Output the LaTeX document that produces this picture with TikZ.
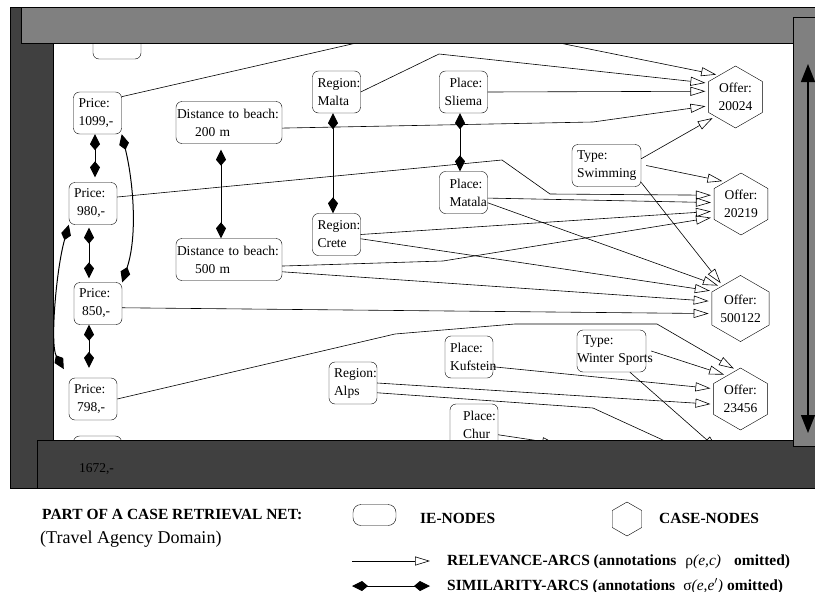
\documentclass[tikz,border=0pt]{standalone}
\usepackage{fontspec}
\setmainfont{Liberation Serif}
\usetikzlibrary{arrows.meta,shapes.geometric}

\definecolor{barmid}{gray}{0.5}
\definecolor{bardark}{gray}{0.25}

\newcommand{\nodefont}{\fontsize{13.5}{18}\selectfont\hyphenpenalty=10000}
\newcommand{\legendfont}{\fontsize{15.5}{18}\selectfont\bfseries}

\tikzstyle{ienode}=[draw, fill=white, rounded corners=6pt, minimum height=42pt, inner sep=5pt, text width=38pt, align=left, font=\nodefont]
\tikzstyle{typenode}=[ienode, text width=59pt]
\tikzstyle{distnode}=[ienode, inner xsep=1pt, text width=104pt]
\tikzstyle{casenode}=[draw, fill=white, regular polygon, regular polygon sides=6, shape border rotate=90, minimum size=62pt, inner sep=0pt, align=center, font=\nodefont]
\tikzstyle{keybox}=[draw, rounded corners=8pt, minimum width=43pt, minimum height=21pt, inner sep=0pt]
\tikzstyle{legendtext}=[anchor=west, inner sep=0pt]
\tikzstyle{relarc}=[-{Triangle[open, length=15pt, width=9pt]}, line width=0.6pt, shorten >=3pt]
\tikzstyle{simarc}=[{Kite[length=16pt, width=10pt, inset=6pt]}-{Kite[length=16pt, width=10pt, inset=6pt]}, line width=1pt]
\tikzstyle{panel}=[draw=black, line width=0.6pt]
\tikzstyle{scroll}=[{Triangle[length=18pt, width=14pt]}-{Triangle[length=18pt, width=14pt]}, line width=1.4pt]

\begin{document}
\begin{tikzpicture}[x=1pt, y=-1pt]
    \useasboundingbox (0,0) rectangle (815,592);

    \node[ienode] (ptop) at (117,38) {};
    \node[ienode] (p1099) at (97.5,113) {Price:\\1099,-};
    \node[ienode] (p980) at (93,203.5) {Price:\\\hspace*{3pt}980,-};
    \node[ienode] (p850) at (98,303.5) {Price:\\\hspace*{3pt}850,-};
    \node[ienode] (p798) at (93,399) {Price:\\\hspace*{3pt}798,-};
    \node[ienode] (pbot) at (97.5,457) {};
    \node[distnode] (d200) at (229,122.5) {Distance to beach:\\\hspace*{18pt}200 m};
    \node[distnode] (d500) at (229,259.5) {Distance to beach:\\\hspace*{18pt}500 m};
    \node[ienode] (rmalta) at (336.5,92) {Region:\\Malta};
    \node[ienode] (rcrete) at (336.5,234.5) {Region:\\Crete};
    \node[ienode] (ralps) at (353,383) {Region:\\Alps};
    \node[ienode] (psliema) at (463.5,92) {\hspace*{5pt}Place:\\Sliema};
    \node[ienode] (pmatala) at (463.5,192.5) {\hspace*{5pt}Place:\\\hspace*{5pt}Matala};
    \node[ienode] (pkufstein) at (469,357) {Place:\\Kufstein};
    \node[ienode] (pchur) at (474,425) {\hspace*{8pt}Place:\\\hspace*{8pt}Chur};
    \node[typenode] (tswim) at (606.5,165.5) {Type:\\Swimming};
    \node[typenode] (twinter) at (611.5,351) {\hspace*{1pt}Type:\\\mbox{\hspace*{-5pt}Winter Sports}};

    \node[casenode] (o20024) at (735.5,97) {Offer:\\20024};
    \node[casenode] (o20219) at (741,204) {Offer:\\20219};
    \node[casenode] (o500122) at (740.5,308.5) {Offer:\\500122};
    \node[casenode] (o23456) at (740.5,399) {Offer:\\23456};

    \coordinate (offtop1) at (400,33);
    \coordinate (offtop2) at (520,35);
    \coordinate (offbot1) at (690,452);
    \coordinate (offbot2) at (720,452);
    \coordinate (offbot3) at (560,445);

    \draw[relarc] (p1099.34) -- (offtop1);
    \draw[relarc] (offtop2) -- (o20024.127);
    \draw[relarc] (rmalta.east) -- (439,54) -- (o20024.153);
    \draw[relarc] (psliema.east) -- (o20024.168);
    \draw[relarc] (d200.-6) -- (593,122) -- (o20024.198);
    \draw[relarc] (tswim.11) -- (o20024.224);

    \draw[relarc] ([xshift=5pt]tswim.east) -- (o20219.125);
    \draw[relarc] (p980.15) -- (502,160) -- (550,194) -- (o20219.162);
    \draw[relarc] (pmatala.-13) -- (o20219.177);
    \draw[relarc] (rcrete.east) -- (o20219.195);
    \draw[relarc] (d500.-7) -- (443,261) -- (o20219.206);

    \draw[relarc] (tswim.-26) -- (o500122.128);
    \draw[relarc] (pmatala.-23) -- (o500122.132);
    \draw[relarc] (rcrete.-10) -- (o500122.148);
    \draw[relarc] (d500.-13) -- (o500122.166);
    \draw[relarc] (p850.-10) -- (o500122.190);

    \draw[relarc] (p798.east) -- (395,334) -- (515,324) -- (657,324) -- (o23456.98);
    \draw[relarc] ([xshift=5pt]twinter.east) -- (o23456.120);
    \draw[relarc] (pkufstein.-22) -- (o23456.159);
    \draw[relarc] (ralps.east) -- (o23456.191);

    \draw[relarc] (ralps.-22) -- (593,408) -- (665,441) -- (offbot1);
    \draw[relarc] (twinter.-49) -- (707,440) -- (offbot2);
    \draw[relarc] (pchur.-22) -- (533,440) -- (offbot3);

    \draw[simarc, shorten >=5pt] ([xshift=-2.5pt]p1099.south) -- ([xshift=2pt]p980.north);
    \draw[simarc] (p1099.south east) .. controls (133,180) and (138,235) .. (p850.north east);
    \draw[simarc, shorten <=3pt, shorten >=4pt] ([xshift=-4pt]p980.south) -- ([xshift=-9pt]p850.north);
    \draw[simarc, shorten >=10pt] ([xshift=-9pt]p850.south) -- ([xshift=-4pt]p798.north);
    \draw[simarc, shorten >=10pt] (p980.south west) .. controls (56,270) and (50,345) .. (p798.north west);
    \draw[simarc, shorten <=6pt] ([xshift=-8pt]d200.south) -- ([xshift=-8pt]d500.north);
    \draw[simarc] ([xshift=-3.5pt]rmalta.south) -- ([xshift=-3.5pt]rcrete.north);
    \draw[simarc] ([xshift=-3.5pt]psliema.south) -- ([xshift=-3.5pt]pmatala.north);

    \draw[panel, fill=bardark] (10,7) rectangle (53,488);
    \draw[panel, fill=barmid] (21,7) rectangle (830,43);
    \draw[panel, fill=bardark] (37,440) rectangle (830,488);
    \draw[panel, fill=barmid] (793,17) rectangle (830,446);
    \coordinate (scrolltop) at (808,64);
    \coordinate (scrollbot) at (808,433);
    \draw[scroll] (scrolltop) -- (scrollbot);

    \node[font=\nodefont, inner sep=0pt] (pbotlabel) at (96.5,469) {1672,-};

    \node[legendtext, font=\legendfont] (title) at (42,514) {PART OF A CASE RETRIEVAL NET:};
    \node[legendtext, font=\fontsize{18}{20}\selectfont] (domain) at (40,539) {(Travel Agency Domain)};
    \node[keybox] (iekey) at (374.5,515) {};
    \node[legendtext, font=\legendfont] (ielabel) at (420,518) {IE-NODES};
    \node[casenode, minimum size=34pt] (casekey) at (627,519) {};
    \node[legendtext, font=\legendfont] (caselabel) at (659,518) {CASE-NODES};
    \coordinate (relfrom) at (352,561);
    \coordinate (relto) at (430,561);
    \draw[relarc, shorten >=0pt] (relfrom) -- (relto);
    \node[legendtext, font=\legendfont] (rellabel) at (447,562) {RELEVANCE-ARCS (annotations\hspace{9pt}{\mdseries ρ\textit{(e,c)}}\hspace{13pt}omitted)};
    \coordinate (simfrom) at (352,586);
    \coordinate (simto) at (430,586);
    \draw[simarc] (simfrom) -- (simto);
    \node[legendtext, font=\legendfont] (simlabel) at (447,586) {SIMILARITY-ARCS (annotations\hspace{8pt}{\mdseries σ\textit{(e,e$'$)}}\hspace{4pt}omitted)};
\end{tikzpicture}
\end{document}
